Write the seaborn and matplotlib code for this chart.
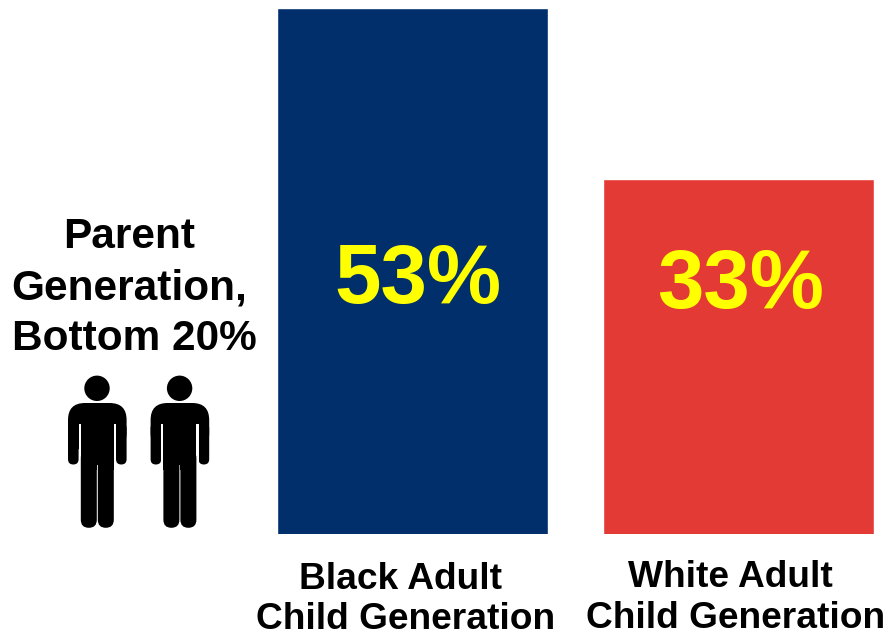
import matplotlib
matplotlib.use("Agg")
import matplotlib.pyplot as plt
from matplotlib.patches import Circle, FancyBboxPatch, Rectangle
import pandas as pd
import seaborn as sns

# Share of each adult child group, by race
groups = ["Black", "White"]
shares = [53, 33]
group_headings = ["Black Adult", "White Adult"]
group_subheading = "Child Generation"
bar_colors = ["#002F6C", "#E43A36"]
parent_lines = ["Parent", "Generation,", "Bottom 20%"]

W, H = 888, 637
sns.set_theme(style="white")
plt.rcParams["font.family"] = ["Liberation Sans", "DejaVu Sans"]
plt.rcParams["font.weight"] = "bold"

fig = plt.figure(figsize=(W / 100, H / 100), dpi=100, facecolor="white")

# Bar panel: hidden logarithmic value axis, bars rising from its lower limit
left, right, top, bottom = 250, 888, 7.8, 534
ax = fig.add_axes([left / W, 1 - bottom / H, (right - left) / W, (bottom - top) / H])
frame = pd.DataFrame({"group": groups, "share": shares})
sns.barplot(data=frame, x="group", y="share", hue="group", palette=bar_colors,
            order=groups, hue_order=groups, width=271.4 / 326, dodge=False,
            legend=False, saturation=1, ax=ax)
ax.set_yscale("log")
ax.set_ylim(12.38, 53)
ax.set_xlim((left - 412.3) / 326, (right - 412.3) / 326)
ax.axis("off")

# Pixel-coordinate overlay for the text and the pictogram
ov = fig.add_axes([0, 0, 1, 1], zorder=3)
ov.set_xlim(0, W)
ov.set_ylim(H, 0)
ov.axis("off")


def label(x, baseline, text, size, color="black"):
    ov.text(x, baseline, text, color=color, fontsize=size, fontweight="bold",
            ha="center", va="baseline")


for xc, base, share in zip((418, 741), (303, 308), shares):
    label(xc, base, f"{share}%", 60, "#FFFF00")

for xc, base, sub_base, heading in zip((400.5, 730.5), (589, 587), (629, 628), group_headings):
    label(xc, base, heading, 26.7)
    label(xc + 5, sub_base, group_subheading, 26.7)

for xc, base, line in zip((129, 129, 134.5), (248, 299, 350), parent_lines):
    label(xc, base, line, 30.5)


def rounded(x0, y0, x1, y1, r, color="black"):
    """Rounded rectangle given by its corners in pixels."""
    ov.add_patch(FancyBboxPatch((x0 + r, y0 + r), x1 - x0 - 2 * r, y1 - y0 - 2 * r,
                                boxstyle=f"round,pad={r},rounding_size={r}",
                                fc=color, ec="none"))


def person(cx):
    """Standing figure centred on cx."""
    ov.add_patch(Circle((cx, 388.3), 12.7, fc="black", ec="none"))
    # shoulders and arms
    rounded(cx - 29, 403, cx + 29.6, 450, 17)
    rounded(cx - 29, 423, cx - 18.4, 464.5, 5.3)
    rounded(cx + 19, 423, cx + 29.6, 464.5, 5.3)
    # gaps between arms and torso
    ov.add_patch(Rectangle((cx - 18.4, 423.5), 2.2, 42, fc="white", ec="none"))
    ov.add_patch(Rectangle((cx + 16.8, 423.5), 2.2, 42, fc="white", ec="none"))
    ov.add_patch(Rectangle((cx - 16.2, 420), 33, 45, fc="black", ec="none"))
    # legs
    rounded(cx - 16.2, 450, cx - 0.2, 527.8, 8)
    rounded(cx + 0.8, 450, cx + 16.8, 527.8, 8)
    ov.add_patch(Rectangle((cx - 16.2, 450), 16, 20, fc="black", ec="none"))
    ov.add_patch(Rectangle((cx + 0.8, 450), 16, 20, fc="black", ec="none"))


person(97)
person(179.6)

fig.savefig("out.png", dpi=100, facecolor="white")
